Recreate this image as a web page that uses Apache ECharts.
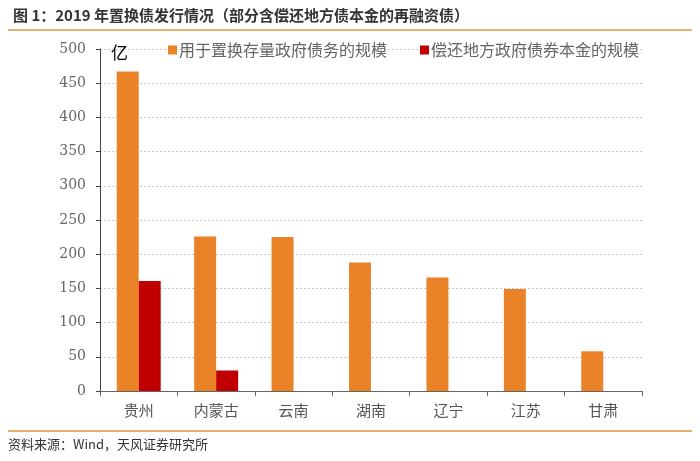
<!DOCTYPE html>
<html>
<head>
<meta charset="utf-8">
<script src="https://cdn.jsdelivr.net/npm/echarts@6/dist/echarts.min.js"></script>
<style>html,body{margin:0;padding:0;background:#fff;}#c{width:700px;height:461px;}</style>
</head>
<body>
<div id="c"></div>
<script>
const categories = ['贵州', '内蒙古', '云南', '湖南', '辽宁', '江苏', '甘肃'];
const replaceDebt = [467, 226, 225, 188, 166, 149, 58];
const repayPrincipal = [161, 30, null, null, null, null, null];
const seriesNames = ['用于置换存量政府债务的规模', '偿还地方政府债券本金的规模'];
const titleText = '图 1：2019 年置换债发行情况（部分含偿还地方债本金的再融资债）';
const sourceText = '资料来源：Wind，天风证券研究所';
const unitText = '亿';

const chart = echarts.init(document.getElementById('c'));
const cjk = '"Noto Sans CJK SC", sans-serif';
chart.setOption({
  animation: false,
  backgroundColor: '#fff',
  title: {
    text: titleText, left: 8, top: 3,
    textStyle: { fontSize: 15, fontWeight: 'bold', color: '#333', fontFamily: cjk }
  },
  graphic: [
    { type: 'line', shape: { x1: 8, y1: 30, x2: 692, y2: 30 }, style: { stroke: '#E0953F', lineWidth: 1.5 } },
    { type: 'line', shape: { x1: 8, y1: 431, x2: 692, y2: 431 }, style: { stroke: '#E0953F', lineWidth: 1.5 } },
    { type: 'text', left: 8, top: 438, style: { text: sourceText, fontSize: 13, fill: '#333', fontFamily: cjk } },
    { type: 'text', left: 111, top: 44, style: { text: unitText, fontSize: 17, fill: '#000', fontFamily: cjk } }
  ],
  legend: {
    left: 163, top: 37, itemWidth: 9, itemHeight: 9, itemGap: 33,
    icon: 'rect',
    textStyle: { fontSize: 16, color: '#666', fontFamily: cjk, padding: [0, 0, 0, -3] },
    data: seriesNames
  },
  grid: { left: 100, right: 58, top: 49, bottom: 70, containLabel: false },
  xAxis: {
    type: 'category', data: categories,
    axisLine: { lineStyle: { color: '#666', width: 1 } },
    axisTick: { show: true, length: 5, lineStyle: { color: '#666' } },
    axisLabel: { fontSize: 15, color: '#555', fontFamily: cjk, margin: 12 }
  },
  yAxis: {
    type: 'value', min: 0, max: 500, interval: 50,
    axisLine: { show: true, lineStyle: { color: '#444', width: 1 } },
    axisTick: { show: true, length: 4, lineStyle: { color: '#444' } },
    axisLabel: { fontSize: 14, color: '#666', fontFamily: '"DejaVu Serif", serif', margin: 14 },
    splitLine: { lineStyle: { color: '#c8c8c8', type: [2, 2], width: 1 } }
  },
  series: [
    { name: seriesNames[0], type: 'bar', data: replaceDebt, barWidth: 22, barGap: '0%', itemStyle: { color: '#EA8228' } },
    { name: seriesNames[1], type: 'bar', data: repayPrincipal, barWidth: 22, barGap: '0%', itemStyle: { color: '#C00000' } }
  ]
});
</script>
</body>
</html>
